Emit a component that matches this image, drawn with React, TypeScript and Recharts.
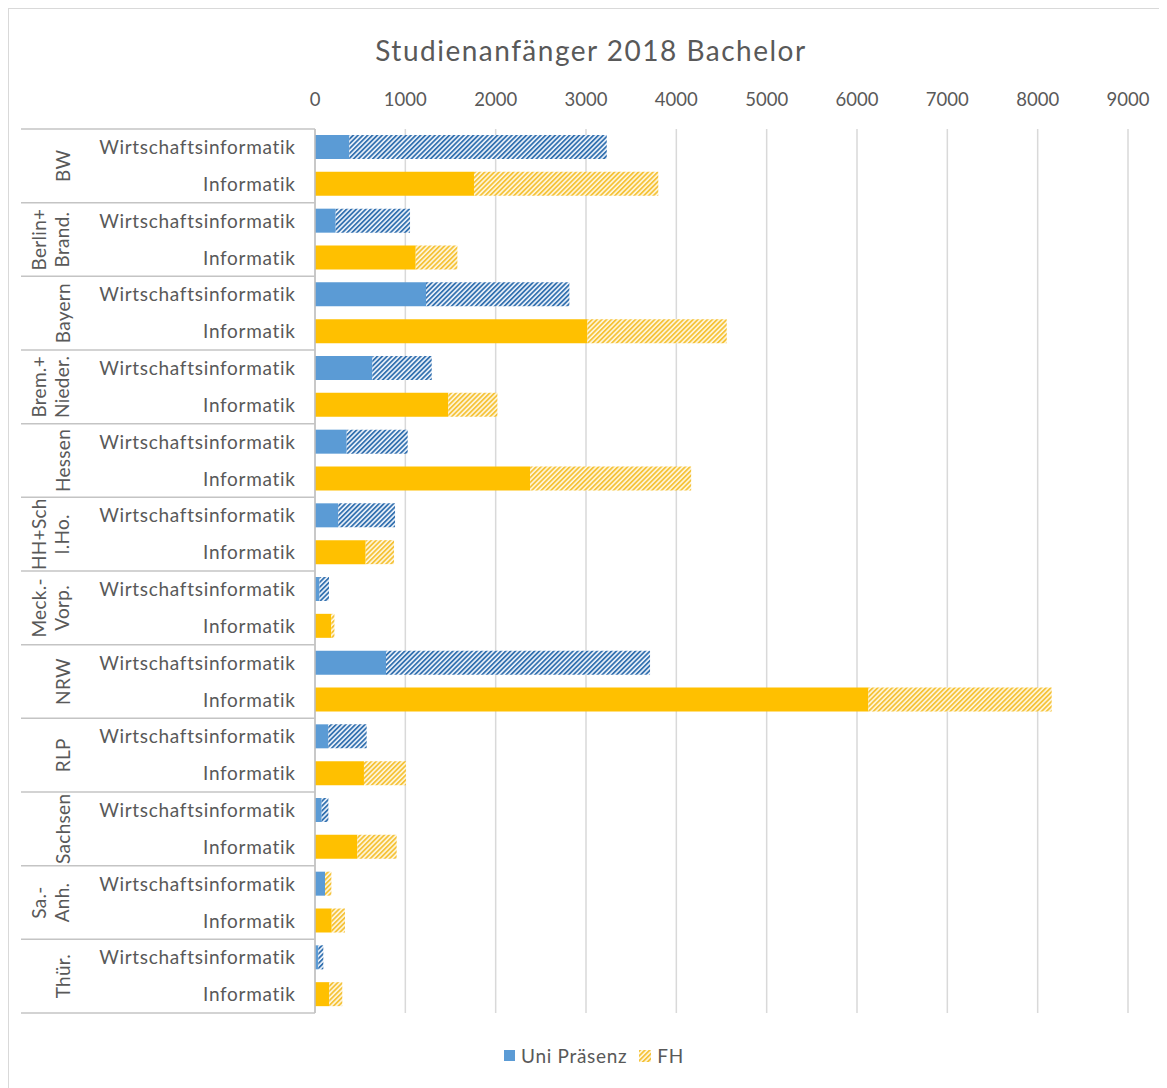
import React from 'react';
import { BarChart, Bar, XAxis, YAxis, CartesianGrid, Cell } from 'recharts';

// ---- data ----
const stateLabels: string[][] = [
  ['BW'],
  ['Berlin+', 'Brand.'],
  ['Bayern'],
  ['Brem.+', 'Nieder.'],
  ['Hessen'],
  ['HH+Sch', 'l.Ho.'],
  ['Meck.-', 'Vorp.'],
  ['NRW'],
  ['RLP'],
  ['Sachsen'],
  ['Sa.-', 'Anh.'],
  ['Thür.'],
];
const subjects = ['Wirtschaftsinformatik', 'Informatik'];
const uniWI = [380, 229, 1229, 635, 351, 258, 50, 786, 148, 74, 111, 37];
const fhWI = [2850, 823, 1587, 657, 675, 628, 105, 2923, 424, 74, 70, 55];
const uniInf = [1760, 1115, 3016, 1476, 2381, 561, 180, 6126, 542, 469, 185, 158];
const fhInf = [2040, 461, 1542, 543, 1783, 314, 35, 2029, 465, 435, 147, 144];
const xTicks = [0, 1000, 2000, 3000, 4000, 5000, 6000, 7000, 8000, 9000];
const title = 'Studienanfänger 2018 Bachelor';
const seriesNames = ['Uni Präsenz', 'FH'];

// ---- layout / style ----
const W = 1152;
const H = 1080;
const PLOT_LEFT = 307;
const PLOT_TOP = 121;
const PLOT_BOTTOM = 1005;
const PLOT_RIGHT = 1120;
const FONT = 'Lato, "Open Sans", sans-serif';
const TEXT = '#595959';
const BLUE = '#5B9BD5';
const YELLOW = '#FFC000';
// FH segment drawn with the yellow hatch although it is a WI row (as in the source)
const fhYellowOverride = new Set(['10-0']);

type Row = { key: string; state: number; subject: number; uni: number; fh: number };
const rows: Row[] = [];
stateLabels.forEach((_, s) => {
  rows.push({ key: `${s}-0`, state: s, subject: 0, uni: uniWI[s], fh: fhWI[s] });
  rows.push({ key: `${s}-1`, state: s, subject: 1, uni: uniInf[s], fh: fhInf[s] });
});
const ROW = (PLOT_BOTTOM - PLOT_TOP) / rows.length;

const YTick = (props: any) => {
  const { y, payload } = props;
  const idx = rows.findIndex((r) => r.key === payload.value);
  if (idx < 0) return null;
  const r = rows[idx];
  const els: React.ReactNode[] = [];
  els.push(
    <text
      key="s"
      x={287.7}
      y={y}
      dy="0.35em"
      textAnchor="end"
      fill={TEXT}
      fontSize={19}
      letterSpacing={0.7}
      fontFamily={FONT}
    >
      {subjects[r.subject]}
    </text>
  );
  if (r.subject === 0) {
    const top = y - ROW / 2;
    els.push(<line key="l" x1={13} x2={PLOT_LEFT} y1={top} y2={top} stroke="#c4c4c4" strokeWidth={1.5} />);
    const cy = y + ROW / 2;
    const lines = stateLabels[r.state];
    const xs = lines.length === 1 ? [55] : [31, 54];
    lines.forEach((ln, i) => {
      els.push(
        <text
          key={'t' + i}
          transform={`translate(${xs[i]},${cy}) rotate(-90)`}
          x={0}
          y={0}
          dy="0.35em"
          textAnchor="middle"
          fill={TEXT}
          fontSize={19}
          letterSpacing={0.3}
          fontFamily={FONT}
        >
          {ln}
        </text>
      );
    });
  }
  if (idx === rows.length - 1) {
    const bot = y + ROW / 2;
    els.push(<line key="b" x1={13} x2={PLOT_LEFT} y1={bot} y2={bot} stroke="#c4c4c4" strokeWidth={1.5} />);
  }
  return <g>{els}</g>;
};

export default function App() {
  return (
    <div style={{ position: 'relative', width: W, height: H, background: '#fff' }}>
      <svg width={0} height={0} style={{ position: 'absolute' }}>
        <defs>
          <pattern id="hatchBlue" patternUnits="userSpaceOnUse" width={3.4} height={3.4} patternTransform="rotate(45)">
            <rect width={3.4} height={3.4} fill="#eef4fb" />
            <rect width={1.8} height={3.4} fill="#3572b0" />
          </pattern>
          <pattern id="hatchYellow" patternUnits="userSpaceOnUse" width={3.4} height={3.4} patternTransform="rotate(45)">
            <rect width={3.4} height={3.4} fill="#fff7df" />
            <rect width={1.8} height={3.4} fill="#f5c33a" />
          </pattern>
        </defs>
      </svg>
      <div
        style={{
          position: 'absolute',
          left: 0,
          top: 0,
          width: W + 2,
          height: H,
          boxSizing: 'border-box',
          border: '1.5px solid #d9d9d9',
          borderBottom: 'none',
        }}
      />
      <div
        style={{
          position: 'absolute',
          left: 0,
          width: W,
          top: 24,
          textAlign: 'center',
          fontFamily: FONT,
          fontSize: 28,
          letterSpacing: 1.5,
          color: TEXT,
          lineHeight: '36px',
          paddingLeft: 14,
          boxSizing: 'border-box',
        }}
      >
        {title}
      </div>
      <div style={{ position: 'absolute', left: 0, top: 0 }}>
        <BarChart
          width={W}
          height={H}
          data={rows}
          layout="vertical"
          margin={{ top: PLOT_TOP - 30, right: W - PLOT_RIGHT, bottom: H - PLOT_BOTTOM, left: 0 }}
          barSize={24}
        >
          <CartesianGrid horizontal={false} stroke="#d9d9d9" strokeWidth={1.5} />
          <XAxis
            type="number"
            orientation="top"
            domain={[0, 9000]}
            ticks={xTicks}
            height={30}
            axisLine={false}
            tickLine={false}
            tickMargin={17}
            tick={{ fill: TEXT, fontSize: 18.5, fontFamily: FONT }}
          />
          <YAxis
            type="category"
            dataKey="key"
            width={PLOT_LEFT}
            interval={0}
            axisLine={{ stroke: '#bfbfbf', strokeWidth: 1.5 }}
            tickLine={false}
            tick={<YTick />}
          />
          <Bar dataKey="uni" stackId="a" isAnimationActive={false}>
            {rows.map((r) => (
              <Cell key={r.key} fill={r.subject === 0 ? BLUE : YELLOW} />
            ))}
          </Bar>
          <Bar dataKey="fh" stackId="a" isAnimationActive={false}>
            {rows.map((r) => (
              <Cell
                key={r.key}
                fill={r.subject === 0 && !fhYellowOverride.has(r.key) ? 'url(#hatchBlue)' : 'url(#hatchYellow)'}
              />
            ))}
          </Bar>
        </BarChart>
      </div>
      <div
        style={{
          position: 'absolute',
          left: 0,
          width: W,
          top: 1036,
          display: 'flex',
          justifyContent: 'center',
          alignItems: 'center',
          fontFamily: FONT,
          fontSize: 19,
          letterSpacing: 0.7,
          color: TEXT,
          paddingLeft: 20,
          boxSizing: 'border-box',
        }}
      >
        <span style={{ display: 'inline-block', width: 11, height: 11, background: BLUE, marginRight: 6 }} />
        <span style={{ marginRight: 12 }}>{seriesNames[0]}</span>
        <svg width={12} height={12} style={{ marginRight: 6 }}>
          <rect width={12} height={12} fill="url(#hatchYellow)" />
        </svg>
        <span>{seriesNames[1]}</span>
      </div>
    </div>
  );
}
